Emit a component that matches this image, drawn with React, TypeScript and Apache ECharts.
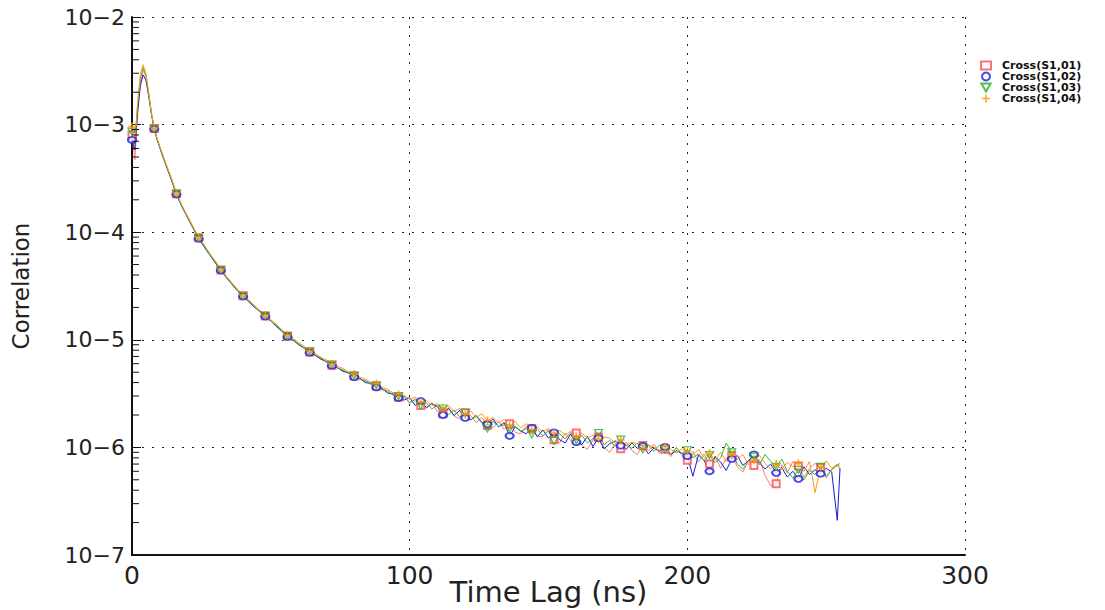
import React, { useEffect, useRef } from "react";
import * as echarts from "echarts";

// Time lag samples (ns)
const T = [
  0, 1, 2, 3, 4, 5, 6, 7, 8, 9, 10, 11, 12,
  14, 16, 18, 20, 22, 24, 26, 28, 30, 32, 34, 36, 38, 40, 42, 44, 46, 48, 50, 52, 54, 56, 58, 60,
  62, 64, 66, 68, 70, 72, 74, 76, 78, 80, 82, 84, 86, 88, 90, 92, 94, 96,
  98, 100, 102, 104, 106, 108, 110, 112, 114, 116, 118, 120, 122, 124, 126, 128, 130, 132, 134, 136, 138, 140,
  142, 144, 146, 148, 150, 152, 154, 156, 158, 160, 162, 164, 166, 168, 170, 172, 174, 176, 178, 180,
  182, 184, 186, 188, 190, 192, 194, 196, 198, 200, 202, 204, 206, 208, 210, 212, 214, 216, 218, 220,
  222, 224, 226, 228, 230, 232, 234, 236, 238, 240, 242, 244, 246, 248, 250, 252, 254, 255,
];

const S01 = [
  8.0e-4, 4.7e-4, 1.2e-3, 2.4e-3, 3.2e-3, 2.8e-3, 1.9e-3, 1.27e-3, 9.2e-4, 7.4e-4, 6.2e-4, 5.2e-4, 4.4e-4,
  3.2e-4, 2.28e-4, 1.73e-4, 1.38e-4, 1.1e-4, 8.9e-5, 7.4e-5, 6.2e-5, 5.2e-5, 4.46e-5, 3.8e-5, 3.3e-5, 2.87e-5, 2.56e-5,
  2.28e-5, 2.03e-5, 1.85e-5, 1.66e-5, 1.49e-5, 1.35e-5, 1.21e-5, 1.08e-5, 9.9e-6, 9.1e-6, 8.3e-6, 7.7e-6, 7.1e-6,
  6.7e-6, 6.2e-6, 5.8e-6, 5.5e-6, 5.1e-6, 4.9e-6, 4.6e-6, 4.3e-6, 4.15e-6, 3.85e-6, 3.7e-6, 3.45e-6, 3.3e-6, 3.05e-6, 2.92e-6,
  3.0e-6, 2.55e-6, 2.85e-6, 2.45e-6, 2.3e-6, 2.6e-6, 2.15e-6, 2.05e-6, 2.35e-6, 1.95e-6, 1.85e-6, 2.1e-6, 1.98e-6,
  1.7e-6, 1.9e-6, 1.6e-6, 1.52e-6, 1.76e-6, 1.47e-6, 1.66e-6, 1.38e-6, 1.34e-6, 1.58e-6, 1.5e-6, 1.25e-6,
  1.27e-6, 1.46e-6, 1.18e-6, 1.1e-6, 1.36e-6, 1.15e-6, 1.36e-6, 1.05e-6, 9.6e-7, 1.17e-6, 1.25e-6, 1.0e-6,
  9.0e-7, 1.08e-6, 9.7e-7, 1.12e-6, 9.4e-7, 8.6e-7, 1.04e-6, 9.3e-7, 1.07e-6, 8.8e-7, 9.6e-7, 8.2e-7, 1.0e-6,
  8.5e-7, 7.6e-7, 9.2e-7, 7.3e-7, 8.7e-7, 7.0e-7, 8.3e-7, 6.4e-7, 7.9e-7, 8.4e-7, 6.6e-7, 5.9e-7, 7.5e-7, 6.8e-7,
  7.7e-7, 5.5e-7, 4.4e-7, 4.6e-7, 6.9e-7, 5.8e-7, 7.4e-7, 6.7e-7, 5.3e-7, 6.4e-7, 7.1e-7, 6.5e-7, 5.2e-7, 6.3e-7,
  6.9e-7, 6.2e-7,
];

const S02 = [
  7.2e-4, 5.8e-4, 1.3e-3, 2.3e-3, 2.9e-3, 2.6e-3, 1.85e-3, 1.25e-3, 9.1e-4, 7.3e-4, 6.1e-4, 5.1e-4, 4.35e-4,
  3.15e-4, 2.25e-4, 1.72e-4, 1.37e-4, 1.09e-4, 8.7e-5, 7.3e-5, 6.15e-5, 5.2e-5, 4.42e-5, 3.78e-5, 3.28e-5, 2.86e-5, 2.53e-5,
  2.27e-5, 2.02e-5, 1.83e-5, 1.65e-5, 1.5e-5, 1.33e-5, 1.2e-5, 1.07e-5, 1.0e-5, 9.0e-6, 8.4e-6, 7.6e-6, 7.2e-6,
  6.6e-6, 6.3e-6, 5.75e-6, 5.5e-6, 5.1e-6, 4.95e-6, 4.5e-6, 4.4e-6, 4.0e-6, 3.95e-6, 3.62e-6, 3.55e-6, 3.2e-6, 3.15e-6, 2.88e-6,
  2.75e-6, 2.9e-6, 2.45e-6, 2.7e-6, 2.35e-6, 2.55e-6, 2.4e-6, 2.0e-6, 2.3e-6, 1.98e-6, 2.2e-6, 1.88e-6, 1.8e-6,
  1.98e-6, 1.7e-6, 1.64e-6, 1.84e-6, 1.55e-6, 1.7e-6, 1.28e-6, 1.55e-6, 1.42e-6, 1.34e-6, 1.52e-6, 1.26e-6,
  1.45e-6, 1.22e-6, 1.38e-6, 1.18e-6, 1.1e-6, 1.33e-6, 1.12e-6, 1.06e-6, 1.27e-6, 1.02e-6, 1.22e-6, 9.7e-7,
  1.08e-6, 1.15e-6, 1.04e-6, 9.6e-7, 1.1e-6, 9.8e-7, 1.03e-6, 8.7e-7, 9.9e-7, 9.2e-7, 1.01e-6, 8.6e-7, 9.3e-7,
  8.8e-7, 8.3e-7, 5.4e-7, 8.5e-7, 7.6e-7, 6.0e-7, 8.2e-7, 7.3e-7, 6.1e-7, 7.8e-7, 8.4e-7, 6.8e-7, 7.5e-7, 8.6e-7,
  7.2e-7, 6.3e-7, 7.0e-7, 5.8e-7, 6.5e-7, 5.3e-7, 6.0e-7, 5.1e-7, 6.6e-7, 5.6e-7, 6.2e-7, 5.7e-7, 6.4e-7, 5.9e-7,
  2.1e-7, 6.4e-7,
];

const S03 = [
  8.6e-4, 6.5e-4, 1.5e-3, 2.7e-3, 3.4e-3, 2.9e-3, 1.95e-3, 1.28e-3, 9.2e-4, 7.4e-4, 6.2e-4, 5.2e-4, 4.4e-4,
  3.2e-4, 2.27e-4, 1.75e-4, 1.38e-4, 1.1e-4, 8.8e-5, 7.45e-5, 6.2e-5, 5.3e-5, 4.45e-5, 3.82e-5, 3.3e-5, 2.9e-5, 2.55e-5,
  2.3e-5, 2.04e-5, 1.84e-5, 1.67e-5, 1.5e-5, 1.36e-5, 1.2e-5, 1.09e-5, 1.0e-5, 9.2e-6, 8.4e-6, 7.8e-6, 7.2e-6,
  6.8e-6, 6.2e-6, 5.9e-6, 5.45e-6, 5.25e-6, 4.85e-6, 4.65e-6, 4.3e-6, 4.18e-6, 3.9e-6, 3.78e-6, 3.45e-6, 3.38e-6, 3.08e-6, 3.0e-6,
  2.95e-6, 2.62e-6, 2.78e-6, 2.45e-6, 2.6e-6, 2.28e-6, 2.45e-6, 2.3e-6, 2.02e-6, 2.22e-6, 1.92e-6, 2.1e-6, 1.8e-6,
  1.95e-6, 1.68e-6, 1.5e-6, 1.75e-6, 1.56e-6, 1.62e-6, 1.5e-6, 1.58e-6, 1.42e-6, 1.5e-6, 1.32e-6, 1.47e-6,
  1.28e-6, 1.42e-6, 1.15e-6, 1.34e-6, 1.2e-6, 1.38e-6, 1.17e-6, 1.3e-6, 1.1e-6, 1.2e-6, 1.36e-6, 1.06e-6,
  1.16e-6, 1.02e-6, 1.18e-6, 1.05e-6, 9.8e-7, 1.1e-6, 9.6e-7, 1.04e-6, 9.2e-7, 1.06e-6, 9.5e-7, 8.6e-7, 9.9e-7,
  8.8e-7, 9.4e-7, 8.0e-7, 8.7e-7, 7.6e-7, 8.5e-7, 7.2e-7, 8.0e-7, 1.1e-6, 9.0e-7, 7.0e-7, 6.3e-7, 7.4e-7, 8.2e-7,
  6.9e-7, 8.6e-7, 7.4e-7, 6.6e-7, 7.8e-7, 6.0e-7, 5.2e-7, 6.2e-7, 5.0e-7, 6.1e-7, 5.6e-7, 6.6e-7, 5.4e-7, 6.2e-7,
  6.8e-7, 7.1e-7,
];

const S04 = [
  9.6e-4, 7.0e-4, 1.6e-3, 2.9e-3, 3.6e-3, 3.0e-3, 2.0e-3, 1.3e-3, 9.3e-4, 7.5e-4, 6.3e-4, 5.3e-4, 4.5e-4,
  3.3e-4, 2.33e-4, 1.78e-4, 1.41e-4, 1.13e-4, 9.0e-5, 7.6e-5, 6.35e-5, 5.4e-5, 4.55e-5, 3.9e-5, 3.38e-5, 2.95e-5, 2.62e-5,
  2.35e-5, 2.1e-5, 1.89e-5, 1.7e-5, 1.54e-5, 1.39e-5, 1.24e-5, 1.11e-5, 1.03e-5, 9.4e-6, 8.7e-6, 7.9e-6, 7.45e-6,
  6.9e-6, 6.5e-6, 6.0e-6, 5.7e-6, 5.4e-6, 5.05e-6, 4.8e-6, 4.5e-6, 4.3e-6, 4.05e-6, 3.9e-6, 3.62e-6, 3.48e-6, 3.22e-6, 3.1e-6,
  3.05e-6, 2.8e-6, 2.95e-6, 2.65e-6, 2.75e-6, 2.45e-6, 2.55e-6, 2.3e-6, 2.45e-6, 2.15e-6, 2.3e-6, 2.02e-6, 2.18e-6,
  1.9e-6, 2.05e-6, 1.78e-6, 1.9e-6, 1.68e-6, 1.82e-6, 1.6e-6, 1.74e-6, 1.52e-6, 1.66e-6, 1.46e-6, 1.55e-6,
  1.4e-6, 1.5e-6, 1.36e-6, 1.44e-6, 1.3e-6, 1.42e-6, 1.26e-6, 1.36e-6, 1.22e-6, 1.3e-6, 1.2e-6, 1.25e-6,
  1.22e-6, 1.1e-6, 1.17e-6, 1.05e-6, 1.12e-6, 1.08e-6, 9.8e-7, 1.06e-6, 1.0e-6, 9.4e-7, 1.02e-6, 9.6e-7, 8.9e-7,
  9.7e-7, 9.2e-7, 8.5e-7, 9.6e-7, 8.0e-7, 8.8e-7, 7.6e-7, 9.0e-7, 7.4e-7, 8.5e-7, 7.8e-7, 8.6e-7, 6.9e-7, 7.6e-7,
  8.4e-7, 7.1e-7, 6.3e-7, 7.0e-7, 6.2e-7, 7.3e-7, 6.6e-7, 7.1e-7, 6.0e-7, 7.4e-7, 3.8e-7, 6.6e-7, 7.5e-7, 6.4e-7,
  7.0e-7, 6.6e-7,
];

const SERIES_DATA = [S01, S02, S03, S04];
const SERIES_NAMES = ["Cross(S1,01)", "Cross(S1,02)", "Cross(S1,03)", "Cross(S1,04)"];
const LINE_COLORS = ["#ff7a7a", "#1a1ae0", "#2fbf2f", "#ff9a1a"];
const MARKER_COLORS = ["#ff4d4d", "#1a1ae0", "#22b022", "#ff9000"];
const PLUS_PATH = "path://M4,0H6V4H10V6H6V10H4V6H0V4H4Z";
const DOWN_TRIANGLE_PATH = "path://M0,0L10,0L5,8.7Z";
const MARKER_SYMBOLS = ["emptyRect", "emptyCircle", DOWN_TRIANGLE_PATH, PLUS_PATH];
const MARKER_SIZES: any[] = [7, [8, 6], [8, 7], 8];
const MARKER_STEP = 8;

const X_TICKS = [0, 100, 200, 300];
const Y_DECADES = [-7, -6, -5, -4, -3, -2];
const Y_TICK_LABELS = ["10−7", "10−6", "10−5", "10−4", "10−3", "10−2"];
const MINOR_MANTISSAS = [2, 3, 4, 5, 6, 7, 8, 9];

const FONT = "'DejaVu Sans', sans-serif";

export default function App() {
  const ref = useRef<HTMLDivElement>(null);

  useEffect(() => {
    const chart = echarts.init(ref.current!, null, { renderer: "svg" });

    const lineSeries = SERIES_DATA.map((s, k) => ({
      type: "line",
      name: SERIES_NAMES[k] + " line",
      data: T.map((t, i) => [t, s[i]]).filter((p) => p[1] !== undefined),
      showSymbol: false,
      symbol: "none",
      silent: true,
      lineStyle: { color: LINE_COLORS[k], width: 1 },
      itemStyle: { color: LINE_COLORS[k] },
      z: 2 + k,
    }));

    const markerSeries = SERIES_DATA.map((s, k) => {
      const hollowPath = k === 2;
      return {
        type: "scatter",
        name: SERIES_NAMES[k],
        data: T.map((t, i) => [t, s[i]]).filter((p) => p[0] % MARKER_STEP === 0 && p[1] !== undefined),
        symbol: MARKER_SYMBOLS[k],
        symbolSize: MARKER_SIZES[k],
        silent: true,
        itemStyle:
          k === 3
            ? { color: MARKER_COLORS[k] }
            : hollowPath
            ? { color: "rgba(255,255,255,0)", borderColor: MARKER_COLORS[k], borderWidth: 1.2 }
            : { color: MARKER_COLORS[k], borderColor: MARKER_COLORS[k], borderWidth: 1.2 },
        z: 6 + k,
      };
    });

    const option: any = {
      animation: false,
      backgroundColor: "#ffffff",
      grid: {
        left: 132,
        right: 140,
        top: 17,
        bottom: 55,
        containLabel: false,
        outerBoundsMode: "none",
      },
      legend: {
        orient: "vertical",
        left: 980,
        top: 60,
        padding: 0,
        itemWidth: 10,
        itemHeight: 8,
        itemGap: 0,
        selectedMode: false,
        data: SERIES_NAMES,
        textStyle: {
          fontFamily: FONT,
          fontSize: 11,
          fontWeight: "bold",
          color: "#111",
          padding: [0, 0, 0, 6],
        },
      },
      xAxis: {
        type: "value",
        min: X_TICKS[0],
        max: X_TICKS[X_TICKS.length - 1],
        interval: X_TICKS[1] - X_TICKS[0],
        name: "Time Lag (ns)",
        nameLocation: "middle",
        nameGap: 22,
        nameMoveOverlap: false,
        nameTextStyle: { fontFamily: FONT, fontSize: 29, color: "#222", verticalAlign: "top" },
        axisLine: { show: true, onZero: false, lineStyle: { color: "#111", width: 2 } },
        axisTick: { show: false },
        axisLabel: { fontFamily: FONT, fontSize: 25, color: "#222", margin: 8 },
        splitLine: { show: true, lineStyle: { color: "#222", width: 1, type: [2, 7] } },
      },
      yAxis: {
        type: "log",
        logBase: 10,
        min: Math.pow(10, Y_DECADES[0]),
        max: Math.pow(10, Y_DECADES[Y_DECADES.length - 1]),
        name: "Correlation",
        nameLocation: "middle",
        nameGap: 100,
        nameMoveOverlap: false,
        nameTextStyle: { fontFamily: FONT, fontSize: 23, color: "#222" },
        axisLine: { show: true, lineStyle: { color: "#111", width: 2 } },
        axisTick: { show: true, inside: true, length: 9, lineStyle: { color: "#111" } },
        axisLabel: {
          fontFamily: FONT,
          fontSize: 22,
          color: "#222",
          margin: 7,
          formatter: (v: number) => {
            const e = Math.round(Math.log10(v));
            const idx = Y_DECADES.indexOf(e);
            return idx >= 0 ? Y_TICK_LABELS[idx] : "";
          },
        },
        splitLine: { show: true, lineStyle: { color: "#222", width: 1, type: [2, 8] } },
      },
      series: [...lineSeries, ...markerSeries],
    };

    chart.setOption(option);

    // Minor (log) ticks on the y axis, placed through the axis scale
    const x0 = chart.convertToPixel({ xAxisIndex: 0 }, X_TICKS[0]) as number;
    const minorGraphics: any[] = [];
    Y_DECADES.slice(0, -1).forEach((d) => {
      MINOR_MANTISSAS.forEach((m) => {
        const y = chart.convertToPixel({ yAxisIndex: 0 }, m * Math.pow(10, d)) as number;
        minorGraphics.push({
          type: "line",
          silent: true,
          z: 50,
          shape: { x1: x0, y1: y, x2: x0 + 7, y2: y },
          style: { stroke: "#111", lineWidth: 1 },
        });
      });
    });
    chart.setOption({ graphic: minorGraphics });

    return () => chart.dispose();
  }, []);

  return (
    <div
      ref={ref}
      style={{ position: "fixed", left: 0, top: 0, width: 1105, height: 610, background: "#fff" }}
    />
  );
}
